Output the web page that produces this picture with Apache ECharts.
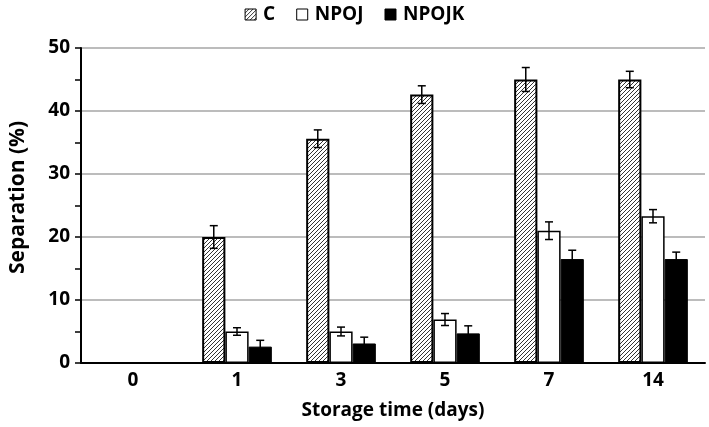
<!DOCTYPE html>
<html>
<head>
<meta charset="utf-8">
<script src="https://cdn.jsdelivr.net/npm/echarts@6/dist/echarts.min.js"></script>
<style>html,body{margin:0;padding:0;background:#fff;}#c{width:709px;height:427px;}</style>
</head>
<body>
<div id="c"></div>
<script>
var categories = ['0', '1', '3', '5', '7', '14'];
var seriesNames = ['C', 'NPOJ', 'NPOJK'];
var valuesC = [0, 20.0, 35.6, 42.6, 45.0, 45.0];
var errC = [0, 1.8, 1.4, 1.4, 1.9, 1.3];
var valuesNPOJ = [0, 5.0, 5.0, 6.9, 21.0, 23.3];
var errNPOJ = [0, 0.6, 0.7, 0.95, 1.4, 1.05];
var valuesNPOJK = [0, 2.6, 3.1, 4.7, 16.5, 16.5];
var errNPOJK = [0, 1.0, 1.0, 1.2, 1.4, 1.1];
var yTicks = [0, 10, 20, 30, 40, 50];

var FONT = '"Open Sans"';
var FS = 19;
var GAP = 0.33;

function hatch() {
  var s = 4;
  var cv = document.createElement('canvas');
  cv.width = s; cv.height = s;
  var g = cv.getContext('2d');
  g.fillStyle = '#fff'; g.fillRect(0, 0, s, s);
  g.strokeStyle = '#333'; g.lineWidth = 1;
  g.beginPath();
  g.moveTo(0, s); g.lineTo(s, 0);
  g.moveTo(-1, 1); g.lineTo(1, -1);
  g.moveTo(s - 1, s + 1); g.lineTo(s + 1, s - 1);
  g.stroke();
  return { image: cv, repeat: 'repeat' };
}

var barStyles = [
  { color: hatch(), borderColor: '#000', borderWidth: 2 },
  { color: '#fff', borderColor: '#000', borderWidth: 1.5 },
  { color: '#000', borderColor: '#000', borderWidth: 1 }
];
var vals = [valuesC, valuesNPOJ, valuesNPOJK];
var errs = [errC, errNPOJ, errNPOJK];

var series = [];
seriesNames.forEach(function (n, i) {
  series.push({
    name: n, type: 'bar', data: vals[i], itemStyle: barStyles[i],
    barGap: 0, barCategoryGap: (GAP * 100) + '%', animation: false
  });
});
seriesNames.forEach(function (n, i) {
  series.push({
    name: 'err_' + n, type: 'custom', z: 10, animation: false,
    data: vals[i].map(function (v, k) { return [k, v, errs[i][k]]; }),
    renderItem: function (params, api) {
      var ci = api.value(0), v = api.value(1), e = api.value(2);
      if (!e) return;
      var band = api.size([1, 0])[0];
      var bw = band * (1 - GAP) / 3;
      var x = api.coord([ci, v])[0] + (i - 1) * bw;
      var t = api.coord([ci, v + e])[1];
      var b = api.coord([ci, v - e])[1];
      var cap = 4;
      var st = { stroke: '#000', lineWidth: 1.5 };
      return {
        type: 'group', children: [
          { type: 'line', shape: { x1: x, y1: t, x2: x, y2: b }, style: st },
          { type: 'line', shape: { x1: x - cap, y1: t, x2: x + cap, y2: t }, style: st },
          { type: 'line', shape: { x1: x - cap, y1: b, x2: x + cap, y2: b }, style: st }
        ]
      };
    }
  });
});

var chart = echarts.init(document.getElementById('c'));
chart.setOption({
  animation: false,
  textStyle: { fontFamily: FONT },
  legend: {
    data: seriesNames, top: 0, left: 'center', icon: 'rect',
    itemWidth: 11, itemHeight: 11, itemGap: 21,
    textStyle: { fontFamily: FONT, fontWeight: 'bold', fontSize: FS, color: '#000', padding: [0, 0, 0, 2] },
    itemStyle: { borderColor: '#000', borderWidth: 1 }
  },
  grid: { left: 75, right: 4, top: 48, bottom: 64 },
  xAxis: {
    type: 'category', data: categories,
    name: 'Storage time (days)', nameLocation: 'middle', nameGap: 38,
    nameTextStyle: { fontFamily: FONT, fontWeight: 'bold', fontSize: FS, color: '#000' },
    axisLine: { lineStyle: { color: '#000', width: 2 } },
    axisTick: { show: false },
    axisLabel: { fontFamily: FONT, fontWeight: 'bold', fontSize: FS, color: '#000', margin: 8 }
  },
  yAxis: {
    type: 'value', min: yTicks[0], max: yTicks[yTicks.length - 1], interval: 10,
    name: 'Separation (%)', nameLocation: 'middle', nameGap: 52,
    nameTextStyle: { fontFamily: FONT, fontWeight: 'bold', fontSize: 21, color: '#000', padding: [0, 0, 0, 16] },
    axisLine: { show: true, lineStyle: { color: '#000', width: 2 } },
    axisTick: { show: true, length: 6, lineStyle: { color: '#000', width: 1.5 } },
    minorTick: { show: true, splitNumber: 2, length: 6, lineStyle: { color: '#000', width: 1.5 } },
    splitLine: { lineStyle: { color: '#a6a6a6', width: 1.5 } },
    axisLabel: { fontFamily: FONT, fontWeight: 'bold', fontSize: FS, color: '#000', margin: 11 }
  },
  series: series
});
</script>
</body>
</html>
